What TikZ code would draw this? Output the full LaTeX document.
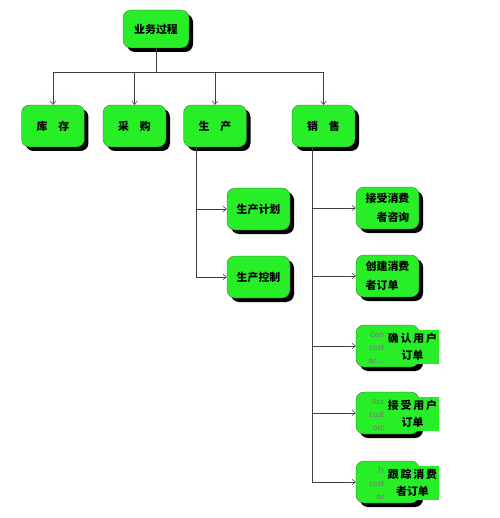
\documentclass[tikz,border=0pt]{standalone}
\usepackage{fontspec}
\setmainfont{Noto Sans CJK SC}
\usetikzlibrary{positioning,calc,shadows,arrows.meta}

\definecolor{boxgreen}{RGB}{40,238,40}
\def\boxwidth{3.15cm}
\def\boxheight{2.1cm}

\begin{document}
\begin{tikzpicture}[
    x=0.05cm, y=-0.05cm,
    >={Straight Barb[length=5pt,width=8pt]},
    thebox/.style={draw=black!70, fill=boxgreen, rounded corners=0.4cm,
      minimum width=\boxwidth, minimum height=\boxheight,
      font=\fontsize{15.5}{27}\selectfont\bfseries,
      drop shadow={fill=black, opacity=1, shadow xshift=0.2cm, shadow yshift=-0.2cm}},
    thelink/.style={draw=black!75, line width=0.8pt},
    thepatch/.style={fill=boxgreen, inner sep=0pt, align=center,
      minimum width=2.6cm, minimum height=1.7cm,
      font=\fontsize{15.5}{25}\selectfont\bfseries},
    theleftover/.style={text=black!55, align=right, inner sep=0pt,
      font=\fontsize{11}{18.5}\selectfont}
    ]
    \useasboundingbox (0,0) rectangle (499,518);

    % top
    \node[thebox, minimum width=3.3cm, minimum height=1.9cm] (proc) at (156,29) {业务过程};
    \foreach \n/\x/\t in {stock/53/库\quad 存, buy/134.5/采\quad 购,
      prod/215/生\quad 产, sale/323.5/销\quad 售} {
      \node[thebox] (\n) at (\x,126) {\t};
    }
    \coordinate (bus) at (0,72);
    \draw[thelink] (proc.south) -- (proc.south |- bus);
    \draw[thelink] (stock.north |- bus) -- (sale.north |- bus);
    \foreach \n in {stock,buy,prod,sale}
      \draw[thelink,->] (\n.north |- bus) -- (\n.north);

    % production
    \node[thebox] (plan) at (258.5,209) {生产计划};
    \node[thebox] (ctrl) at (258.5,277) {生产控制};
    \coordinate (prodtrunk) at ($(prod.south west)+(13,0)$);
    \foreach \c in {plan,ctrl}
      \draw[thelink,->] (prodtrunk) |- (\c.west);

    % sales
    \node[thebox, align=right] (ask) at (387.5,208) {接受消费\\者咨询};
    \node[thebox, align=left] (make) at (387.5,276) {创建消费\\者订单};
    \foreach \n/\y in {confirm/346,accept/413,track/482}
      \node[thebox] (\n) at (387.5,\y) {};
    \foreach \n/\a/\b/\c/\t in {confirm/Con/cust/or\ldots/确\,认\,用\,户\\订单,
      accept/Acc/cust/orc/接\,受\,用\,户\\订单,
      track/Tr/cust/or/跟\,踪\,消\,费\\者订单} {
      \node[theleftover, anchor=east] at ($(\n.center)+(-3,2)$) {\a\\\b\\\c};
      \node[thepatch] (\n label) at ($(\n.center)+(25,1)$) {\t};
    }
    \coordinate (saletrunk) at ($(sale.south west)+(20,0)$);
    \foreach \c in {ask,make,confirm,accept,track}
      \draw[thelink,->] (saletrunk) |- (\c.west);
  \end{tikzpicture}
\end{document}
